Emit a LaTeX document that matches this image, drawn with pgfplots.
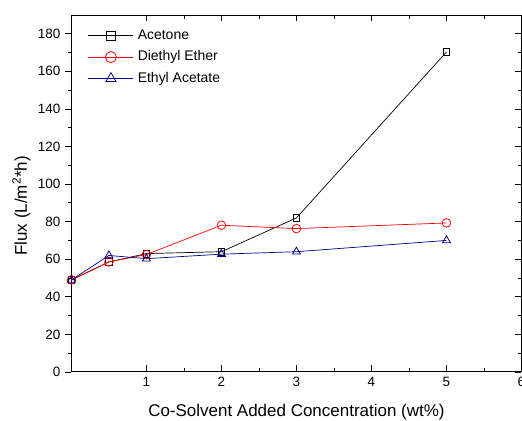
\documentclass[border=0pt]{standalone}
\usepackage{fontspec}
\setmainfont{Liberation Sans}
\usepackage{pgfplots}
\pgfplotsset{compat=1.18}
\definecolor{navyb}{RGB}{0,0,140}
\begin{document}
\begin{tikzpicture}
\path[use as bounding box] (-71.5pt,-49pt) rectangle (451pt,372.3pt);
\begin{axis}[
  at={(0,0)}, anchor=south west,
  scale only axis, width=450.5pt, height=357.3pt,
  xmin=0, xmax=6, ymin=0, ymax=190,
  xtick={1,2,3,4,5,6}, minor x tick num=1,
  ytick={0,20,...,180}, minor y tick num=1,
  xtick align=inside, ytick align=outside,
  xtick pos=both, ytick pos=left,
  major tick length=6.5pt, minor tick length=3.8pt,
  every tick/.style={black, line width=0.8pt},
  axis line style={line width=0.9pt},
  /pgf/number format/assume math mode=true,
  tick label style={font=\fontsize{13.5}{16}\selectfont},
  xticklabel style={yshift=-2pt},
  yticklabel style={xshift=-1pt},
  xlabel={Co-Solvent Added Concentration (wt\%)},
  ylabel={Flux (L/m\textsuperscript{2}*h)},
  label style={font=\fontsize{17}{20}\selectfont},
  xlabel style={at={(axis description cs:0.5,0)}, anchor=base, yshift=-45pt},
  ylabel style={at={(axis description cs:-0.0988,0.465)}, anchor=base, rotate=0},
  legend cell align=left,
  legend style={draw=none, fill=none, at={(axis description cs:0.0366,0.963)}, anchor=north west,
    font=\fontsize{14}{16}\selectfont, inner sep=0pt, row sep=7pt,
    nodes={inner sep=0pt, text height=11pt, text depth=3.5pt},
    /tikz/every odd column/.append style={column sep=4pt}},
  legend image code/.code={\draw[mark repeat=2,mark phase=2,#1,/tikz/every mark/.append style={scale=1.3}] plot coordinates {(0pt,0pt) (22.5pt,0pt) (45pt,0pt)};},
]
\addplot[black, line width=0.7pt, mark=square, mark size=3.4pt, mark options={solid, line width=0.8pt}]
  coordinates {(0,49) (0.5,58.5) (1,63) (2,64) (3,82) (5,170.3)};
\addlegendentry{Acetone}
\addplot[red, line width=0.7pt, mark=o, mark size=4.3pt, mark options={solid, line width=0.8pt}]
  coordinates {(0,49) (0.5,58.6) (1,62.5) (2,78.1) (3,76.3) (5,79.3)};
\addlegendentry{Diethyl Ether}
\addplot[navyb, line width=0.7pt, mark=triangle, mark size=4.6pt, mark options={solid, line width=0.8pt}]
  coordinates {(0,49) (0.5,62) (1,60.3) (2,62.7) (3,64) (5,70)};
\addlegendentry{Ethyl Acetate}
\end{axis}
\begin{axis}[
  at={(0,0)}, anchor=south west,
  scale only axis, width=450.5pt, height=357.3pt,
  xmin=0, xmax=6, ymin=0, ymax=190,
  axis line style={draw=none},
  xtick=\empty,
  ytick={0,20,...,180}, minor y tick num=1,
  ytick align=inside, ytick pos=right, yticklabels={},
  major tick length=6.5pt, minor tick length=3.8pt,
  every tick/.style={black, line width=0.8pt},
]
\end{axis}
\end{tikzpicture}
\end{document}
